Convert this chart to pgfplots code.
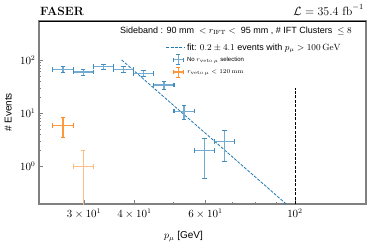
\documentclass[border=0pt]{standalone}
\usepackage{pgfplots}
\usepackage{pgfplotstable}
\pgfplotsset{compat=1.18}
\usepackage{fontspec}
\setsansfont{Liberation Sans}
\definecolor{mplblue}{HTML}{1F77B4}
\definecolor{mplorange}{HTML}{FF7F0E}
\definecolor{spine}{HTML}{808080}
\pgfplotsset{
  errbars/.style 2 args={only marks, mark=text, text mark={}, forget plot,
    error bars/.cd, x dir=both, x explicit, y dir=both, y explicit, error mark=none,
    error bar style={line width=1.3pt, draw=#1!#2}},
  caps/.style n args={3}{only marks, mark=#3, mark size=2.3pt, forget plot,
    mark options={line width=1.1pt, draw=#1!#2}}}
\newcommand\errcross[4]{%
  \addplot[errbars={#2}{#3}] table[x=x, y=y, x error minus=exm, x error plus=exp, y error minus=eym, y error plus=eyp] {#1};
  \addplot[caps={#2}{#4}{|}] table[x expr=\thisrow{x}-\thisrow{exm}, y=y] {#1};
  \addplot[caps={#2}{#4}{|}] table[x expr=\thisrow{x}+\thisrow{exp}, y=y] {#1};
  \addplot[caps={#2}{#4}{-}] table[x=x, y expr=\thisrow{y}-\thisrow{eym}] {#1};
  \addplot[caps={#2}{#4}{-}] table[x=x, y expr=\thisrow{y}+\thisrow{eyp}] {#1};}
\pgfplotstableread{
x y exm exp eym eyp
26.61 67 1.49 1.57 8.2 8.2
29.85 60 1.67 1.77 7.75 7.75
33.50 75 1.88 1.98 8.66 8.66
37.58 67 2.10 2.23 8.19 8.19
42.17 56 2.36 2.50 7.48 7.48
47.32 34 2.65 2.80 5.83 5.83
53.09 11 2.97 3.14 3.32 3.32
59.57 2 3.34 3.53 1.41 1.41
66.83 3 3.73 3.96 1.73 1.73
}\tblblue
\pgfplotstableread{
x y exm exp eym eyp
26.61 6 1.49 1.57 2.45 2.45
}\tblorangeA
\pgfplotstableread{
x y exm exp eym eyp
29.85 1 1.67 1.77 0.999 1.0
}\tblorangeB
\begin{document}
\begin{tikzpicture}
\begin{axis}[
  scale only axis, width=327pt, height=183pt,
  xmode=log, ymode=log,
  xmin=23.2, xmax=150, ymin=0.2, ymax=540,
  xtick={30,40,60,100},
  xticklabels={$3\times10^{1}$,$4\times10^{1}$,$6\times10^{1}$,$10^{2}$},
  minor xtick={50,70,80,90},
  ytick={1,10,100},
  tick pos=left, tick align=inside,
  major tick length=4pt, minor tick length=2.2pt,
  tick style={spine, line width=0.8pt},
  axis line style={spine, line width=1.4pt},
  ticklabel style={font=\fontsize{10.5}{12}\selectfont},
  xticklabel style={yshift=-1pt},
  clip=true,
  legend style={draw=none, fill=none, at={(rel axis cs:0.387,0.885)}, anchor=north west,
    inner sep=0pt, row sep=1pt, nodes={inner sep=1.5pt}},
  legend cell align=left,
]
\addplot[mplblue, line width=0.8pt, dash pattern=on 3pt off 1.4pt, forget plot] coordinates {(37.2,100.4) (95.1,0.2)};
\addplot[black, line width=0.8pt, dash pattern=on 3pt off 1.4pt, forget plot] coordinates {(100,0.2) (100,30)};
\errcross{\tblblue}{mplblue}{62}{85}
\errcross{\tblorangeA}{mplorange}{80}{90}
\errcross{\tblorangeB}{mplorange}{50}{55}
% legend entries
\addlegendimage{legend image code/.code={\draw[mplblue, line width=0.8pt, dash pattern=on 3pt off 1.4pt] (0pt,0pt) -- (19pt,0pt);}}
\addlegendentry{\fontsize{9}{11}\selectfont\sffamily fit: $0.2 \pm 4.1$ events with $p_\mu > 100\,\mathrm{GeV}$}
\addlegendimage{legend image code/.code={
  \draw[mplblue!62, line width=1.2pt] (7pt,0pt) -- (17pt,0pt) (12pt,-5pt) -- (12pt,5pt);
  \draw[mplblue!85, line width=1pt] (7pt,-2.2pt) -- (7pt,2.2pt) (17pt,-2.2pt) -- (17pt,2.2pt) (9.8pt,-5pt) -- (14.2pt,-5pt) (9.8pt,5pt) -- (14.2pt,5pt);}}
\addlegendentry{\fontsize{6}{7}\selectfont\sffamily No $r_{\mathrm{veto}\,\mu}$ selection}
\addlegendimage{legend image code/.code={
  \draw[mplorange!80, line width=1.2pt] (7pt,0pt) -- (17pt,0pt) (12pt,-5pt) -- (12pt,5pt);
  \draw[mplorange!90, line width=1pt] (7pt,-2.2pt) -- (7pt,2.2pt) (17pt,-2.2pt) -- (17pt,2.2pt) (9.8pt,-5pt) -- (14.2pt,-5pt) (9.8pt,5pt) -- (14.2pt,5pt);}}
\addlegendentry{\fontsize{6}{7}\selectfont $r_{\mathrm{veto}\,\mu} < 120\,\mathrm{mm}$}
\end{axis}
\draw[black, line width=0.6pt] (current axis.north west) -- (current axis.north east);
\path (current axis.north west) ++(313pt,-9.5pt) node[anchor=east, inner sep=0pt, font=\fontsize{9}{11}\selectfont\sffamily]
  {Sideband : 90 mm \ $<r_{\mathrm{IFT}}<$ \ 95 mm , \# IFT Clusters \ $\leq 8$};
\path (current axis.north west) ++(1pt,6pt) node[anchor=base west, inner sep=0pt, font=\fontsize{12}{14}\selectfont\bfseries] {FASER};
\path (current axis.north east) ++(-2pt,6pt) node[anchor=base east, inner sep=0pt, font=\fontsize{12}{14}\selectfont] {$\mathcal{L} = 35.4\ \mathrm{fb}^{-1}$};
\path (current axis.south west) ++(144.5pt,-32.7pt) node[inner sep=0pt, font=\fontsize{10}{12}\selectfont\sffamily] {$p_\mu$ [GeV]};
\path (current axis.south west) ++(-30.7pt,91.5pt) node[rotate=90, inner sep=0pt, font=\fontsize{10}{12}\selectfont\sffamily] {\# Events};
\pgfresetboundingbox
\path[use as bounding box] (current axis.south west) ++(-39pt,-43pt) rectangle ++(374pt,247pt);
\end{tikzpicture}
\end{document}
